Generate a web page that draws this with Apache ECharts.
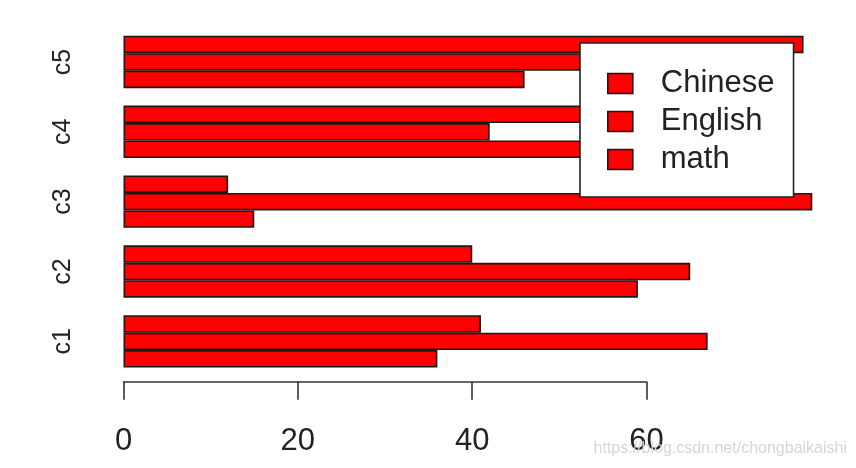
<!DOCTYPE html>
<html>
<head>
<meta charset="utf-8">
<script src="https://cdn.jsdelivr.net/npm/echarts@6/dist/echarts.min.js"></script>
<style>
  html, body { margin: 0; padding: 0; background: #fff; }
  #chart { width: 856px; height: 468px; }
</style>
</head>
<body>
<div id="chart"></div>
<script>
// 数据
const categories = ['c1', 'c2', 'c3', 'c4', 'c5']
const chinese = [36, 59, 15, 60, 46]
const english = [67, 65, 79, 42, 70]
const math = [41, 40, 12, 65, 78]
const xTicks = [0, 20, 40, 60]

const font = 'Liberation Sans, Arial, sans-serif'
const barStyle = { color: '#ff0000', borderColor: '#1a1a1a', borderWidth: 1.6 }

const chart = echarts.init(document.getElementById('chart'))

const mkSeries = (name, data) => ({
  name,
  type: 'bar',
  data,
  xAxisIndex: 0,
  yAxisIndex: 0,
  barGap: '0%',
  barCategoryGap: '25%',
  itemStyle: barStyle
})

const option = {
  animation: false,
  backgroundColor: '#fff',
  title: {
    text: 'https://blog.csdn.net/chongbaikaishi',
    right: 9,
    bottom: 11,
    padding: 0,
    textStyle: { color: '#d6d6d6', fontSize: 16, fontWeight: 'normal', fontFamily: font }
  },
  grid: [
    // 数据区
    { left: 123.5, right: 35, top: 27, bottom: 91.7 },
    // 只画 0-60 的坐标轴
    { left: 123.5, width: 523, top: 27, bottom: 91.7 }
  ],
  legend: {
    orient: 'vertical',
    left: 580,
    top: 43,
    padding: [25, 19, 22, 27],
    itemGap: 7,
    itemWidth: 25,
    itemHeight: 20,
    backgroundColor: '#fff',
    borderColor: '#222',
    borderWidth: 1.6,
    icon: 'rect',
    itemStyle: { borderColor: '#1a1a1a', borderWidth: 1.6 },
    textStyle: {
      fontSize: 31,
      fontFamily: font,
      color: '#222',
      padding: [0, 0, 0, 23]
    },
    data: ['Chinese', 'English', 'math']
  },
  xAxis: [
    {
      gridIndex: 0,
      type: 'value',
      min: 0,
      max: 80,
      show: false,
      splitLine: { show: false }
    },
    {
      gridIndex: 1,
      type: 'value',
      min: 0,
      max: 60,
      interval: 20,
      position: 'bottom',
      offset: 5.4,
      splitLine: { show: false },
      axisLine: { show: true, lineStyle: { color: '#333', width: 1.6 } },
      axisTick: { show: true, length: 18, lineStyle: { color: '#333', width: 1.6 } },
      axisLabel: {
        margin: 44,
        fontSize: 31,
        fontFamily: font,
        color: '#222',
        formatter: (v) => (xTicks.includes(v) ? String(v) : '')
      }
    }
  ],
  yAxis: [
    {
      gridIndex: 0,
      type: 'category',
      data: categories,
      axisLine: { show: false },
      axisTick: { show: false },
      axisLabel: {
        rotate: 90,
        margin: 48,
        fontSize: 25,
        fontFamily: font,
        color: '#222'
      }
    },
    {
      gridIndex: 1,
      type: 'category',
      data: categories,
      show: false
    }
  ],
  // 系列顺序倒过来，让 Chinese 在每组最下面
  series: [
    mkSeries('math', math),
    mkSeries('English', english),
    mkSeries('Chinese', chinese)
  ]
}

chart.setOption(option)
</script>
</body>
</html>
